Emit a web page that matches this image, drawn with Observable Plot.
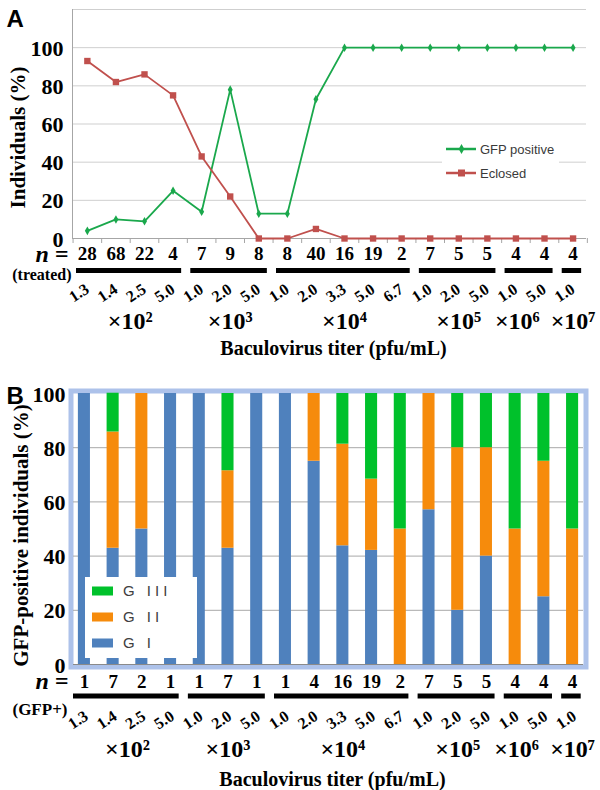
<!DOCTYPE html>
<html><head><meta charset="utf-8">
<script src="https://cdn.jsdelivr.net/npm/d3@7"></script>
<script src="https://cdn.jsdelivr.net/npm/@observablehq/plot@0.6"></script>
<style>
body{margin:0;background:#fff;}
#wrap{position:relative;width:600px;height:790px;overflow:hidden;background:#fff;}
#panelA{position:absolute;left:0;top:0;}
#panelB{position:absolute;left:0;top:365px;}
.legend{position:absolute;background:#fff;}
</style></head><body>
<div id="wrap">
  <div id="panelA"></div>
  <div id="panelB"></div>
  <div id="legA" class="legend" style="left:442px;top:135px;width:117px;height:52px"></div>
  <div id="legB" class="legend" style="left:85px;top:577px;width:112px;height:81px"></div>
</div>
<script>
// ---------- data ----------
const titers = ["1.3","1.4","2.5","5.0","1.0","2.0","5.0","1.0","2.0","3.3","5.0","6.7","1.0","2.0","5.0","1.0","5.0","1.0"];
const exponents = [2,2,2,2,3,3,3,4,4,4,4,4,5,5,5,6,6,7];
const nTreated = [28,68,22,4,7,9,8,8,40,16,19,2,7,5,5,4,4,4];
const nGfpPositive = [1,7,2,1,1,7,1,1,4,16,19,2,7,5,5,4,4,4];
const seriesNames = ["GFP positive","Eclosed"];
const gfpPositivePct = [4,10,9,25,14,78,13,13,73,100,100,100,100,100,100,100,100,100];
const eclosedPct = [93,82,86,75,43,22,0,0,5,0,0,0,0,0,0,0,0,0];
const gradeNames = ["G I","G II","G III"];
const gradeI   = [100,42.9,50,100,100,42.9,100,100,75,43.8,42.1,0,57.1,20,40,0,25,0];
const gradeII  = [0,42.9,50,0,0,28.6,0,0,25,37.5,26.3,50,42.9,60,40,50,50,50];
const gradeIII = [0,14.3,0,0,0,28.5,0,0,0,18.7,31.6,50,0,20,20,50,25,50];
const yTicks = [0,20,40,60,80,100];
const gridA = [20,40,60,80,100,120];
const gridB = [20,40,60,80];
const xTitle = "Baculovirus titer (pfu/mL)";

// ---------- styles ----------
const GREEN = "#1aa84c", RED = "#c0504d";
const gradeColors = ["#4f81bd","#f68b0c","#00c12b"];
const serif = "'Liberation Serif','Times New Roman',serif";
const sans = "'Liberation Sans',Arial,sans-serif";
const sup = {2:"\u00b2",3:"\u00b3",4:"\u2074",5:"\u2075",6:"\u2076",7:"\u2077"};

const idx = titers.map((_, i) => i);
const groups = d3.groups(idx, i => exponents[i]).map(([exp, is]) => ({
  exp, first: is[0], last: is[is.length - 1], mid: (is[0] + is[is.length - 1]) / 2
}));
for (let k = groups.length - 1; k >= 0; k--) {
  groups[k].labelX = k === groups.length - 1 ? groups[k].mid : Math.min(groups[k].mid, groups[k + 1].labelX - 1.95);
}

function xAxisMarks(counts, rowLabel, d) {
  const M = {lineAnchor: "middle", fontWeight: "bold"};
  return [
    Plot.text(["n ="], {...M, frameAnchor: "bottom-left", textAnchor: "end", dx: d.nDx, dy: d.nDy, fontSize: 24, fontStyle: "italic"}),
    Plot.text([rowLabel], {...M, frameAnchor: "bottom-left", textAnchor: "end", dx: d.rowDx, dy: d.rowDy, fontSize: d.rowSize}),
    Plot.text(counts, {...M, x: (v, i) => i, frameAnchor: "bottom", textAnchor: "middle", dy: d.countDy, fontSize: 19}),
    Plot.ruleY(groups, {x1: g => g.first - 0.38, x2: g => g.last + 0.3, y: 0, dy: d.barDy, stroke: "black", strokeWidth: 5}),
    Plot.text(titers, {...M, x: (v, i) => i, frameAnchor: "bottom", textAnchor: "end", rotate: -33, dx: d.titerDx, dy: d.titerDy, fontSize: 16}),
    Plot.text(groups, {...M, x: "labelX", text: g => "\u00d710" + sup[g.exp], frameAnchor: "bottom", textAnchor: "middle", dy: d.expDy, fontSize: 24}),
    Plot.text([xTitle], {...M, frameAnchor: "bottom", textAnchor: "middle", dx: 4, dy: d.titleDy, fontSize: 20})
  ];
}

// ---------- panel A ----------
const xDomA = [-0.52, 17.47];
const rowsGfp = idx.map(i => ({i, v: gfpPositivePct[i]}));
const rowsEcl = idx.map(i => ({i, v: eclosedPct[i]}));
const boundaries = d3.range(-0.5, 18, 1);

const chartA = Plot.plot({
  width: 600, height: 365,
  marginLeft: 72, marginRight: 14, marginTop: 9, marginBottom: 127,
  x: {domain: xDomA, axis: null},
  y: {domain: [0, 120], axis: null},
  style: {fontFamily: serif, background: "white", overflow: "visible", color: "black"},
  marks: [
    Plot.ruleY(gridA, {stroke: "#cfcfcf", strokeWidth: 1}),
    Plot.ruleX([xDomA[0]], {stroke: "#a6a6a6"}),
    Plot.ruleY([0], {stroke: "#a6a6a6"}),
    Plot.ruleX(boundaries, {x: d => d, y1: 0, y2: 0, insetBottom: -5, stroke: "#a6a6a6"}),
    Plot.line(rowsGfp, {x: "i", y: "v", stroke: GREEN, strokeWidth: 1.8}),
    Plot.line(rowsEcl, {x: "i", y: "v", stroke: RED, strokeWidth: 1.8}),
    Plot.dot(rowsGfp, {x: "i", y: "v", symbol: "diamond", r: 2.6, fill: GREEN}),
    Plot.dot(rowsEcl, {x: "i", y: "v", symbol: "square", r: 3.6, fill: RED}),
    Plot.text(yTicks, {y: d => d, frameAnchor: "left", textAnchor: "end", lineAnchor: "middle", dx: -9, dy: 1, fontSize: 22, fontWeight: "bold"}),
    Plot.text(["Individuals (%)"], {frameAnchor: "left", textAnchor: "middle", lineAnchor: "middle", rotate: -90, dx: -54, dy: 13.5, fontSize: 21, fontWeight: "bold"}),
    Plot.text(["A"], {frameAnchor: "top-left", textAnchor: "start", lineAnchor: "top", dx: -66, dy: 0, fontFamily: sans, fontSize: 24, fontWeight: "bold"}),
    ...xAxisMarks(nTreated, "(treated)", {nDx: -4, nDy: 16, rowDx: -1, rowDy: 36, rowSize: 16, countDy: 15.5, barDy: 32, titerDx: 0, titerDy: 49, expDy: 83, titleDy: 110})
  ]
});
document.getElementById("panelA").appendChild(chartA);

// ---------- panel B ----------
const xDomB = [-0.38, 17.38];
const gradeValues = [gradeI, gradeII, gradeIII];
const rowsB = idx.flatMap(i => gradeNames.map((g, k) => ({i, grade: g, value: gradeValues[k][i]})));

const chartB = Plot.plot({
  width: 600, height: 425,
  marginLeft: 73, marginRight: 17, marginTop: 28, marginBottom: 126,
  x: {domain: xDomB, axis: null},
  y: {domain: [0, 100], axis: null},
  color: {domain: gradeNames, range: gradeColors},
  style: {fontFamily: serif, background: "white", overflow: "visible", color: "black"},
  marks: [
    Plot.frame({stroke: "#adc2ea", strokeWidth: 5, inset: -2.5}),
    Plot.ruleY(gridB, {stroke: "#a8a8a8"}),
    Plot.ruleY([0], {stroke: "#8a8a8a"}),
    Plot.rectY(rowsB, {...Plot.stackY({x: "i", y: "value", fill: "grade", order: gradeNames}), x1: d => d.i - 0.21, x2: d => d.i + 0.21}),
    Plot.text(yTicks, {y: d => d, frameAnchor: "left", textAnchor: "end", lineAnchor: "middle", dx: -8, dy: 1, fontSize: 22, fontWeight: "bold"}),
    Plot.text(["GFP-positive individuals (%)"], {frameAnchor: "left", textAnchor: "middle", lineAnchor: "middle", rotate: -90, dx: -52, dy: 6.5, fontSize: 21, fontWeight: "bold"}),
    Plot.text(["B"], {frameAnchor: "top-left", textAnchor: "start", lineAnchor: "top", dx: -67, dy: -7, fontFamily: sans, fontSize: 24, fontWeight: "bold"}),
    ...xAxisMarks(nGfpPositive, "(GFP+)", {nDx: -5, nDy: 17, rowDx: -6, rowDy: 45, rowSize: 17, countDy: 17.5, barDy: 31.5, titerDx: 2, titerDy: 50, expDy: 84.5, titleDy: 115})
  ]
});
document.getElementById("panelB").appendChild(chartB);

// ---------- legends ----------
(function () {
  const diamond = d3.symbol(d3.symbolDiamond, 28)();
  const cols = [GREEN, RED];
  let s = `<svg width="117" height="52" style="font-family:${sans}">`;
  seriesNames.forEach((name, k) => {
    const y = 14 + k * 24;
    s += `<line x1="4" x2="34" y1="${y}" y2="${y}" stroke="${cols[k]}" stroke-width="2.5"/>`;
    if (k === 0) s += `<path d="${diamond}" transform="translate(19.5,${y})" fill="${cols[k]}"/>`;
    else s += `<rect x="16" y="${y - 3.5}" width="7" height="7" fill="${cols[k]}"/>`;
    s += `<text x="38" y="${y}" dy="0.35em" font-size="13" fill="#3a3a3a">${name}</text>`;
  });
  s += `</svg>`;
  document.getElementById("legA").innerHTML = s;

  let t = `<svg width="112" height="81" style="font-family:${sans}">`;
  const order = gradeNames.map((g, k) => k).reverse();
  order.forEach((k, r) => {
    const y = 14 + r * 26;
    t += `<rect x="7" y="${y - 4.5}" width="21" height="9" fill="${gradeColors[k]}"/>`;
    t += `<text x="38" y="${y}" dy="0.36em" font-size="15" letter-spacing="4" fill="#404040">${gradeNames[k]}</text>`;
  });
  t += `</svg>`;
  document.getElementById("legB").innerHTML = t;
})();
</script>
</body></html>
